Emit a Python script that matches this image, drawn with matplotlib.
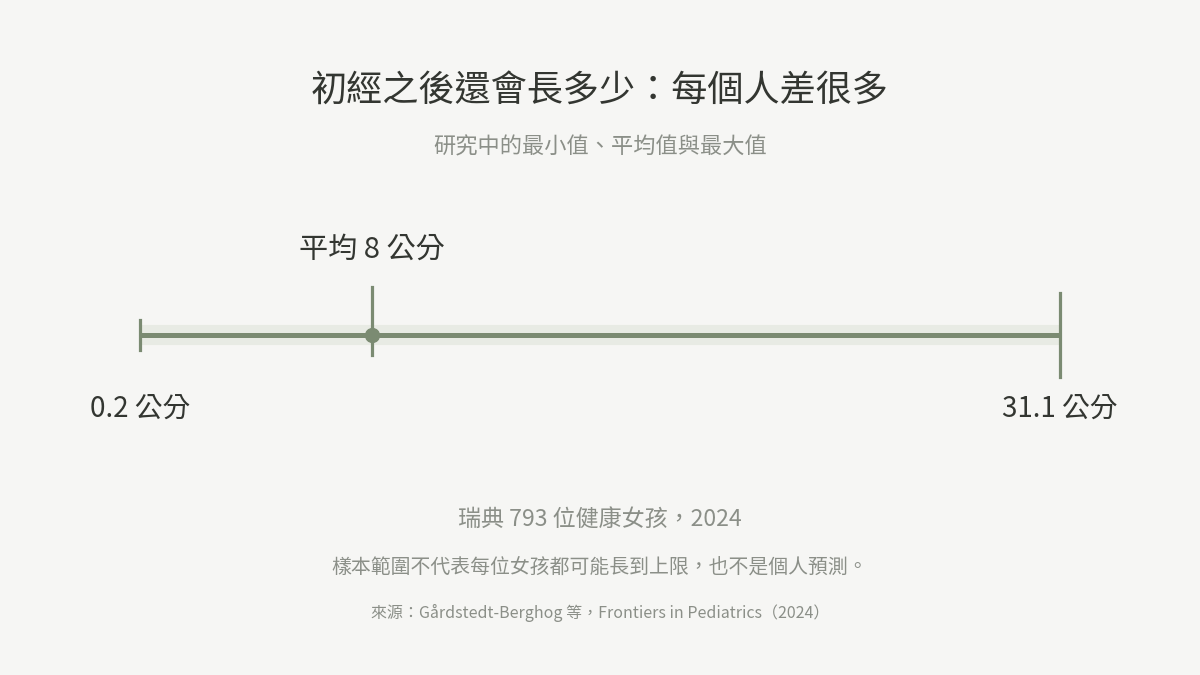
import matplotlib
matplotlib.use("Agg")
import matplotlib.pyplot as plt

plt.rcParams['font.family'] = ['Noto Sans CJK TC', 'DejaVu Sans']

# data
min_val = 0.2
mean_val = 8
max_val = 31.1
unit = "公分"

title = "初經之後還會長多少：每個人差很多"
subtitle = "研究中的最小值、平均值與最大值"
sample_note = "瑞典 793 位健康女孩，2024"
caveat = "樣本範圍不代表每位女孩都可能長到上限，也不是個人預測。"
source = "來源：Gårdstedt-Berghog 等，Frontiers in Pediatrics（2024）"

bg = "#f6f6f4"
green = "#7b8b72"
band = "#e8ebe4"
dark = "#333631"
gray = "#8b8f88"

fig = plt.figure(figsize=(12, 6.75), dpi=100, facecolor=bg)
ax = fig.add_axes([0, 0, 1, 1])
ax.set_facecolor(bg)

# map values to pixels: min at 140px, max at 1060px
px_per = (1060 - 140) / (max_val - min_val)
ax.set_xlim(min_val - 140 / px_per, max_val + 140 / px_per)
ax.set_ylim(675, 0)
ax.axis("off")

yl = 335
ax.plot([min_val, max_val], [yl, yl], color=band, lw=14.5, solid_capstyle="butt", zorder=1)
ax.plot([min_val, max_val], [yl, yl], color=green, lw=3.6, solid_capstyle="butt", zorder=2)
ax.plot([min_val, min_val], [320, 350], color=green, lw=2.3, zorder=3)
ax.plot([mean_val, mean_val], [287, 355], color=green, lw=2.3, zorder=3)
ax.plot([max_val, max_val], [293, 377], color=green, lw=2.3, zorder=3)
ax.plot([mean_val], [yl], "o", color=green, ms=10, zorder=4)

ax.text(mean_val, 250, f"平均 {mean_val} {unit}", ha="center", va="center", fontsize=21, color=dark)
ax.text(min_val, 409, f"{min_val} {unit}", ha="center", va="center", fontsize=20, color=dark)
ax.text(max_val, 409, f"{max_val} {unit}", ha="center", va="center", fontsize=20, color=dark)

fig.text(0.5, 1 - 91 / 675, title, ha="center", va="center", fontsize=26, color=dark)
fig.text(0.5, 1 - 147 / 675, subtitle, ha="center", va="center", fontsize=16, color=gray)
fig.text(0.5, 1 - 519 / 675, sample_note, ha="center", va="center", fontsize=16.6, color=gray)
fig.text(0.5, 1 - 568 / 675, caveat, ha="center", va="center", fontsize=14.3, color=gray)
fig.text(0.5, 1 - 613 / 675, source, ha="center", va="center", fontsize=11.5, color=gray)

fig.savefig("out.png", dpi=100, facecolor=bg)
